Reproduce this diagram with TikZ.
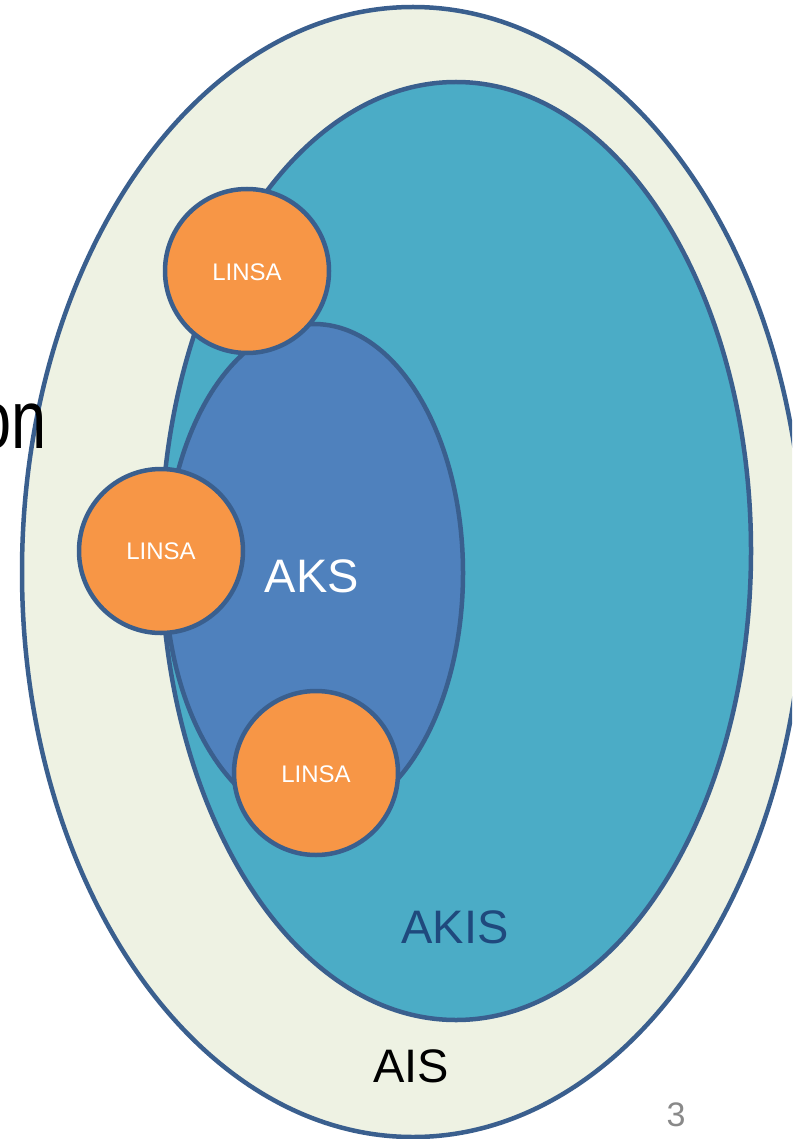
\documentclass[tikz,border=0pt]{standalone}
\usepackage{fontspec}
\setmainfont{Liberation Sans}
\definecolor{edge}{HTML}{3A5F8E}
\definecolor{aisfill}{HTML}{EEF2E3}
\definecolor{akisfill}{HTML}{4BACC6}
\definecolor{aksfill}{HTML}{4F81BD}
\definecolor{linsafill}{HTML}{F79646}
\definecolor{akistext}{HTML}{1F497D}
\definecolor{pagenum}{HTML}{898989}
\tikzset{
  region/.style={draw=edge, line width=4.5pt},
  linsa/.style={circle, draw=edge, line width=4.5pt, fill=linsafill,
    minimum size=164pt, inner sep=0pt},
  linsalabel/.style={anchor=base, text=white, font=\fontsize{24}{24}\selectfont},
  biglabel/.style={anchor=base, font=\fontsize{47}{47}\selectfont},
}
\begin{document}
\begin{tikzpicture}[x=1pt, y=-1pt]
  \useasboundingbox (0,0) rectangle (792,1139);
  \clip (0,0) rectangle (792,1139);
  \fill[white] (0,0) rectangle (792,1139);

  % nested regions
  \draw[region, fill=aisfill] (413,572) ellipse [x radius=391, y radius=565];
  \draw[region, fill=akisfill] (456,551) ellipse [x radius=295, y radius=469];
  \draw[region, fill=aksfill] (314,573) ellipse [x radius=149, y radius=249];

  % title fragment at the left edge
  \node[anchor=base east, inner sep=0pt, xscale=0.76,
    font=\fontsize{83}{83}\selectfont] (title) at (47,448) {on};

  % LINSA circles
  \node[linsa] (l1) at (247,271) {};
  \node[linsa] (l2) at (161,551) {};
  \node[linsa] (l3) at (316,773) {};
  \node[linsalabel] (t1) at (247,281) {LINSA};
  \node[linsalabel] (t2) at (161,559) {LINSA};
  \node[linsalabel] (t3) at (316,782) {LINSA};

  % region labels
  \node[biglabel, text=white] (aks) at (312,592) {AKS};
  \node[biglabel, text=akistext] (akis) at (455,943) {AKIS};
  \node[biglabel, text=black] (ais) at (411,1082) {AIS};

  % page number
  \node[anchor=base, text=pagenum, font=\fontsize{34}{34}\selectfont] (page) at (676,1126) {3};
\end{tikzpicture}
\end{document}
